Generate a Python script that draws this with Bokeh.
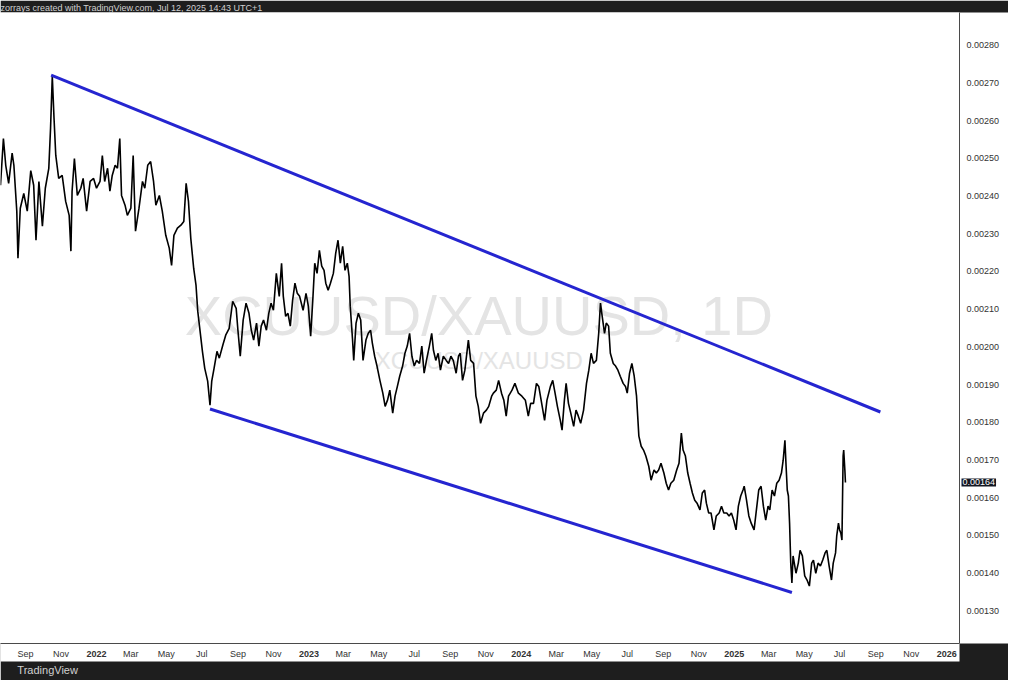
import pandas as pd
from bokeh.plotting import figure
from bokeh.models import (Range1d, FixedTicker, Label, PrintfTickFormatter, ColumnDataSource,
                          DatetimeAxis)
from bokeh.embed import file_html
from bokeh.resources import INLINE

START = "2021-07-20"
END = "2026-01-23"

# day offsets from START and XCUUSD/XAUUSD ratio values
days = [0, 5, 9, 14, 20, 23, 28, 30, 34, 40, 46, 52, 57, 61, 66, 72, 77, 83, 86, 89,
        92, 95, 100, 106, 112, 118, 121, 123, 127, 132, 138, 142, 148, 154, 160, 165, 171, 175, 179, 184,
        188, 192, 197, 201, 205, 208, 214, 218, 224, 228, 232, 238, 244, 248, 253, 258, 263, 267, 273, 278,
        284, 290, 294, 298, 304, 310, 315, 319, 323, 327, 332, 336, 339, 343, 347, 351, 356, 360, 363, 367,
        372, 376, 382, 387, 393, 399, 405, 408, 412, 417, 422, 427, 431, 435, 440, 444, 448, 452, 457, 461,
        465, 469, 474, 479, 483, 486, 490, 494, 498, 502, 506, 510, 514, 520, 525, 529, 533, 537, 540, 544,
        548, 552, 556, 559, 563, 567, 572, 576, 580, 584, 588, 592, 596, 599, 601, 605, 607, 611, 615, 619,
        623, 628, 632, 636, 639, 643, 647, 652, 657, 661, 665, 669, 674, 678, 682, 686, 691, 695, 699, 703,
        707, 711, 715, 720, 724, 728, 732, 737, 741, 744, 748, 752, 756, 761, 766, 770, 774, 778, 783, 787,
        790, 794, 798, 804, 808, 813, 817, 821, 825, 830, 835, 839, 844, 847, 852, 856, 861, 865, 869, 873,
        879, 884, 890, 896, 902, 907, 911, 916, 921, 925, 930, 935, 939, 945, 949, 953, 957, 962, 965, 969,
        972, 976, 980, 985, 989, 993, 997, 1002, 1007, 1011, 1015, 1019, 1024, 1028, 1031, 1034, 1038, 1041, 1045, 1048,
        1053, 1057, 1061, 1065, 1070, 1074, 1077, 1081, 1085, 1089, 1093, 1095, 1097, 1101, 1105, 1109, 1114, 1118, 1123, 1127,
        1131, 1135, 1140, 1144, 1148, 1152, 1157, 1162, 1166, 1170, 1173, 1177, 1181, 1185, 1189, 1193, 1197, 1202, 1206, 1210,
        1213, 1217, 1221, 1226, 1230, 1235, 1239, 1243, 1248, 1252, 1256, 1260, 1264, 1268, 1272, 1276, 1278, 1282, 1286, 1290,
        1295, 1299, 1303, 1307, 1311, 1315, 1319, 1322, 1326, 1330, 1334, 1338, 1342, 1345, 1348, 1350, 1352, 1354, 1356, 1358,
        1360, 1362, 1367, 1371, 1374, 1378, 1382, 1386, 1390, 1394, 1397, 1401, 1405, 1409, 1413, 1417, 1420, 1424, 1428, 1431,
        1435, 1437, 1440, 1442, 1444, 1446, 1448, 1449, 1451, 1452]

ratio = [0.002429, 0.002553, 0.002482, 0.002434, 0.002514, 0.002482, 0.002360, 0.002235, 0.002368, 0.002407,
         0.002360, 0.002468, 0.002429, 0.002283, 0.002439, 0.002320, 0.002421, 0.002474, 0.002580, 0.002718,
         0.002606, 0.002508, 0.002447, 0.002455, 0.002386, 0.002349, 0.002254, 0.002413, 0.002500, 0.002402,
         0.002421, 0.002447, 0.002360, 0.002439, 0.002447, 0.002421, 0.002439, 0.002508, 0.002439, 0.002474,
         0.002413, 0.002455, 0.002482, 0.002474, 0.002553, 0.002402, 0.002376, 0.002349, 0.002368, 0.002508,
         0.002307, 0.002368, 0.002439, 0.002421, 0.002482, 0.002492, 0.002439, 0.002376, 0.002402, 0.002360,
         0.002296, 0.002262, 0.002216, 0.002296, 0.002315, 0.002323, 0.002333, 0.002434, 0.002386, 0.002288,
         0.002208, 0.002163, 0.002094, 0.002041, 0.001988, 0.001943, 0.001909, 0.001845, 0.001909, 0.001943,
         0.001988, 0.001970, 0.002004, 0.002031, 0.002049, 0.002121, 0.002102, 0.002044, 0.001975, 0.002071,
         0.002116, 0.002089, 0.002044, 0.002018, 0.002063, 0.002002, 0.002055, 0.002071, 0.002044, 0.002089,
         0.002116, 0.002097, 0.002195, 0.002134, 0.002222, 0.002134, 0.002081, 0.002089, 0.002055, 0.002124,
         0.002169, 0.002142, 0.002134, 0.002097, 0.002142, 0.002108, 0.002028, 0.002134, 0.002222, 0.002195,
         0.002256, 0.002214, 0.002203, 0.002169, 0.002150, 0.002169, 0.002195, 0.002248, 0.002283, 0.002222,
         0.002267, 0.002203, 0.002222, 0.002187, 0.002108, 0.002018, 0.001964, 0.002063, 0.002089, 0.002071,
         0.001964, 0.002018, 0.002036, 0.002044, 0.002010, 0.001975, 0.001949, 0.001911, 0.001877, 0.001842,
         0.001858, 0.001885, 0.001824, 0.001869, 0.001895, 0.001922, 0.001949, 0.001983, 0.002002, 0.002036,
         0.001975, 0.001949, 0.001964, 0.001956, 0.002002, 0.001930, 0.001964, 0.002002, 0.002036, 0.001991,
         0.001964, 0.001983, 0.001938, 0.001975, 0.001964, 0.001956, 0.001975, 0.001964, 0.001930, 0.001975,
         0.001983, 0.001911, 0.001938, 0.002018, 0.001964, 0.001956, 0.001869, 0.001842, 0.001797, 0.001824,
         0.001832, 0.001842, 0.001869, 0.001877, 0.001885, 0.001911, 0.001877, 0.001858, 0.001816, 0.001869,
         0.001885, 0.001903, 0.001877, 0.001869, 0.001858, 0.001816, 0.001850, 0.001850, 0.001903, 0.001895,
         0.001850, 0.001805, 0.001858, 0.001895, 0.001911, 0.001877, 0.001842, 0.001805, 0.001779, 0.001858,
         0.001903, 0.001850, 0.001824, 0.001789, 0.001832, 0.001816, 0.001797, 0.001832, 0.001903, 0.001938,
         0.001983, 0.001956, 0.001964, 0.002036, 0.002116, 0.002081, 0.002036, 0.002063, 0.002055, 0.001983,
         0.001956, 0.001949, 0.001938, 0.001922, 0.001903, 0.001895, 0.001877, 0.001930, 0.001956, 0.001922,
         0.001869, 0.001816, 0.001763, 0.001736, 0.001726, 0.001710, 0.001683, 0.001646, 0.001673, 0.001665,
         0.001673, 0.001691, 0.001665, 0.001638, 0.001620, 0.001638, 0.001646, 0.001673, 0.001691, 0.001771,
         0.001726, 0.001710, 0.001665, 0.001638, 0.001612, 0.001593, 0.001585, 0.001567, 0.001612, 0.001620,
         0.001585, 0.001559, 0.001559, 0.001514, 0.001551, 0.001559, 0.001577, 0.001559, 0.001559, 0.001551,
         0.001559, 0.001540, 0.001514, 0.001577, 0.001604, 0.001620, 0.001630, 0.001593, 0.001551, 0.001532,
         0.001514, 0.001567, 0.001620, 0.001630, 0.001577, 0.001540, 0.001577, 0.001567, 0.001620, 0.001604,
         0.001638, 0.001646, 0.001665, 0.001699, 0.001752, 0.001683, 0.001620, 0.001604, 0.001532, 0.001426,
         0.001373, 0.001445, 0.001399, 0.001426, 0.001460, 0.001445, 0.001392, 0.001381, 0.001365, 0.001426,
         0.001434, 0.001399, 0.001426, 0.001418, 0.001434, 0.001453, 0.001460, 0.001418, 0.001381, 0.001426,
         0.001453, 0.001498, 0.001532, 0.001514, 0.001506, 0.001487, 0.001710, 0.001726, 0.001673, 0.001640]

# blue trend lines (anchor dates / values)
upper_dates = ["2021-10-15", "2025-09-09"]
upper_vals = [0.002721, 0.001827]
lower_dates = ["2022-07-15", "2025-04-10"]
lower_vals = [0.001835, 0.001348]

# axis ticks
price_ticks = [0.0013, 0.0014, 0.0015, 0.0016, 0.0017, 0.0018, 0.0019, 0.0020,
               0.0021, 0.0022, 0.0023, 0.0024, 0.0025, 0.0026, 0.0027, 0.0028]
month_dates = ["2021-09-01", "2021-11-01", "2022-03-01", "2022-05-01", "2022-07-01",
               "2022-09-01", "2022-11-01", "2023-03-01", "2023-05-01", "2023-07-01",
               "2023-09-01", "2023-11-01", "2024-03-01", "2024-05-01", "2024-07-01",
               "2024-09-01", "2024-11-01", "2025-03-01", "2025-05-01", "2025-07-01",
               "2025-09-01", "2025-11-01"]
month_labels = ["Sep", "Nov", "Mar", "May", "Jul", "Sep", "Nov", "Mar", "May", "Jul",
                "Sep", "Nov", "Mar", "May", "Jul", "Sep", "Nov", "Mar", "May", "Jul",
                "Sep", "Nov"]
year_dates = ["2022-01-01", "2023-01-01", "2024-01-01", "2025-01-01", "2026-01-01"]
year_labels = ["2022", "2023", "2024", "2025", "2026"]
last_value = 0.00164

HEADER = "zorrays created with TradingView.com, Jul 12, 2025 14:43 UTC+1"
FOOTER = "TradingView"


def ms(d):
    return pd.Timestamp(d).timestamp() * 1000.0


start_ts = pd.Timestamp(START)
dates = [start_ts + pd.Timedelta(days=int(d)) for d in days]
src = ColumnDataSource(dict(date=dates, ratio=ratio))

DARK = "#1e1e1e"
LIGHT = "#d0d0d0"
AXIS_TEXT = "#333333"
p = figure(width=1008, height=680, x_axis_type="datetime", y_axis_location="right",
           x_range=Range1d(ms(START), ms(END)), y_range=Range1d(0.0012125, 0.0028875),
           toolbar_location=None, output_backend="svg",
           min_border_left=0, min_border_right=49, min_border_top=11, min_border_bottom=37,
           border_fill_color=DARK, background_fill_color="white", outline_line_color=None)
p.xgrid.visible = False
p.ygrid.visible = False

# header (title)
p.title.text = HEADER
p.title.align = "left"
p.title.text_font = "Liberation Sans"
p.title.text_font_size = "9px"
p.title.text_font_style = "normal"
p.title.text_color = LIGHT
p.title.standoff = 0
p.title.offset = 0

# watermark
WM_X = ms("2023-10-20")
p.add_layout(Label(x=WM_X, y=0.002084, text="XCUUSD/XAUUSD, 1D",
                   text_align="center", text_baseline="middle", text_font="Liberation Sans",
                   text_font_size="56px", text_color="#e4e4e4", level="underlay"))
p.add_layout(Label(x=WM_X, y=0.001964, text="XCUUSD/XAUUSD",
                   text_align="center", text_baseline="middle", text_font="Liberation Sans",
                   text_font_size="24px", text_color="#e4e4e4", level="underlay"))

p.line(x="date", y="ratio", source=src, color="#000000", line_width=1.6)
p.line(x=[pd.Timestamp(d) for d in upper_dates], y=upper_vals, color="#2525d0", line_width=3)
p.line(x=[pd.Timestamp(d) for d in lower_dates], y=lower_vals, color="#2525d0", line_width=3)

ya = p.yaxis[0]
ya.ticker = FixedTicker(ticks=price_ticks)
ya.formatter = PrintfTickFormatter(format="%.5f")
ya.major_tick_line_color = None
ya.minor_tick_line_color = None
ya.major_tick_out = 0
ya.major_tick_in = 0
ya.minor_tick_out = 0
ya.axis_line_color = "#4a4a4a"
ya.major_label_text_font = "Liberation Sans"
ya.major_label_text_font_size = "9px"
ya.major_label_text_color = AXIS_TEXT
ya.major_label_standoff = 7
ya.axis_label = " "
ya.axis_label_text_font_size = "2px"
ya.axis_label_standoff = 1
ya.background_fill_color = "white"

xa = p.xaxis[0]
month_ms = [ms(d) for d in month_dates]
xa.ticker = FixedTicker(ticks=month_ms)
xa.major_label_overrides = {t: lab for t, lab in zip(month_ms, month_labels)}
xa.major_tick_line_color = None
xa.minor_tick_line_color = None
xa.major_tick_out = 0
xa.major_tick_in = 0
xa.minor_tick_out = 0
xa.axis_line_color = "#4a4a4a"
xa.major_label_text_font = "Liberation Sans"
xa.major_label_text_font_size = "9px"
xa.major_label_text_color = AXIS_TEXT
xa.major_label_standoff = 5
xa.background_fill_color = "white"

# bold year labels on a second (zero-height) time axis, drawn onto the first axis row
year_ms = [ms(d) for d in year_dates]
xa_years = DatetimeAxis(ticker=FixedTicker(ticks=year_ms),
                        major_label_overrides={t: lab for t, lab in zip(year_ms, year_labels)},
                        axis_line_color=None, major_tick_line_color=None, minor_tick_line_color=None,
                        major_tick_out=0, major_tick_in=0, minor_tick_out=0, minor_tick_in=0,
                        major_label_standoff=-11, major_label_text_font="Liberation Sans",
                        major_label_text_font_size="9px", major_label_text_font_style="bold",
                        major_label_text_color=AXIS_TEXT)
p.add_layout(xa_years, "below")

# last value tag (in a side panel so it is not clipped to the frame)
tag = Label(x=961, y=last_value, x_units="canvas", text=f"{last_value:.5f}",
            text_baseline="middle", text_font="Liberation Sans", text_font_size="9px",
            text_color="white", background_fill_color="#131722", padding=1)
p.add_layout(tag, "below")

# footer brand text, as the label of a zero-height time axis
footer_ms = ms("2021-10-09")
xa_footer = DatetimeAxis(ticker=FixedTicker(ticks=[footer_ms]),
                         major_label_overrides={footer_ms: FOOTER},
                         axis_line_color=None, major_tick_line_color=None, minor_tick_line_color=None,
                         major_tick_out=0, major_tick_in=0, minor_tick_out=0, minor_tick_in=0,
                         major_label_standoff=-6, major_label_text_font="Liberation Sans",
                         major_label_text_font_size="11px", major_label_text_color=LIGHT)
p.add_layout(xa_footer, "below")

open("out.html", "w").write(file_html(p, INLINE))
